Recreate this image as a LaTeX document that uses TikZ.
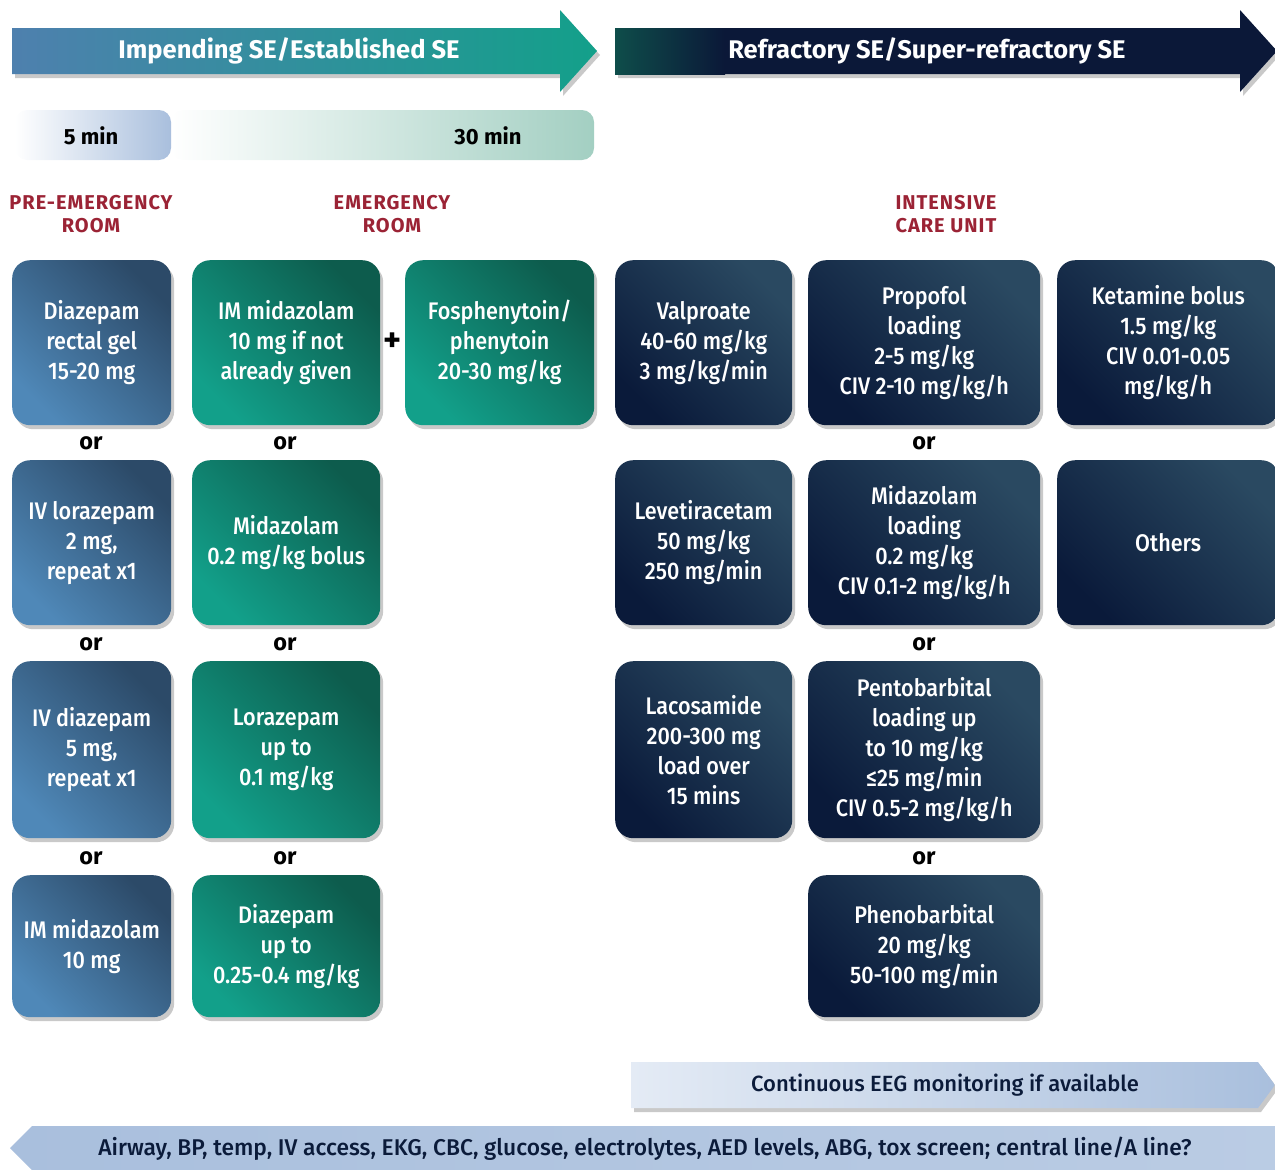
\documentclass[tikz,border=0pt]{standalone}
\usepackage{fontspec}
\setmainfont{Fira Sans}
\newfontfamily\medfont{Fira Sans Medium}[FakeStretch=0.9]
\newfontfamily\medwide{Fira Sans Medium}
\newfontfamily\headfont{Fira Sans}[LetterSpace=5]
\usetikzlibrary{shadows}
\definecolor{bluelight}{HTML}{4F88B8}
\definecolor{bluedark}{HTML}{2C4A68}
\definecolor{teallight}{HTML}{12A08A}
\definecolor{tealdark}{HTML}{0D5C4D}
\definecolor{navylight}{HTML}{2A4961}
\definecolor{navydark}{HTML}{0A1A3A}
\definecolor{arrowblue}{HTML}{4E80AE}
\definecolor{arrowteal}{HTML}{13A08A}
\definecolor{arrownavy}{HTML}{0B1838}
\definecolor{arrowdteal}{HTML}{0E4D4A}
\definecolor{headred}{HTML}{9B2335}
\definecolor{paleblue}{HTML}{A9BFDD}
\definecolor{paleteal}{HTML}{A3CFC2}
\definecolor{lightbar}{HTML}{E4EBF5}
\definecolor{textnavy}{HTML}{0B1B3A}
\tikzset{
  shad/.style={drop shadow={shadow xshift=3pt, shadow yshift=-4pt, opacity=0.3, fill=black!70}},
  box/.style={rounded corners=18pt, text=white, align=center, inner sep=0pt,
    font=\medfont\fontsize{24}{30}\selectfont, shad, anchor=north west},
  bluebox/.style={box, top color=bluedark, bottom color=bluelight, shading angle=-45},
  tealbox/.style={box, top color=tealdark, bottom color=teallight, shading angle=-45},
  navybox/.style={box, top color=navylight, bottom color=navydark, shading angle=-45},
  orlab/.style={font=\bfseries\fontsize{23.5}{24}\selectfont, text=black},
  head/.style={font=\headfont\bfseries\fontsize{20}{23}\selectfont, text=headred, align=center},
  arrowtext/.style={font=\bfseries\fontsize{25.5}{28}\selectfont, text=white},
  timetext/.style={font=\bfseries\fontsize{22}{24}\selectfont, text=black},
}
\begin{document}
\begin{tikzpicture}[x=1pt,y=-1pt]
\useasboundingbox (0,0) rectangle (1275,1170);
% top arrows
\path[shad, left color=arrowblue, right color=arrowteal]
  (12,28) -- (560,28) -- (560,10) -- (597,51) -- (560,92) -- (560,74) -- (12,74) -- cycle;
\node[arrowtext] (a1) at (289,51) {Impending SE/Established SE};
\path[shad, fill=arrownavy]
  (615,28) -- (1240,28) -- (1240,10) -- (1277,51) -- (1240,92) -- (1240,74) -- (615,74) -- cycle;
\path[left color=arrowdteal, right color=arrownavy] (615,28) rectangle (725,74);
\node[arrowtext] (a2) at (927,51) {Refractory SE/Super-refractory SE};
% time bar
\path[left color=white, right color=paleteal, rounded corners=12pt]
  (171,110) rectangle (594,160);
\path[left color=white, right color=paleblue, rounded corners=12pt]
  (15,110) rectangle (171,160);
\node[timetext] (t5) at (91,136) {5 min};
\node[timetext] (t30) at (488,136) {30 min};
% headings
\node[head] (h1) at (91,214) {PRE-EMERGENCY\\ROOM};
\node[head] (h2) at (392,214) {EMERGENCY\\ROOM};
\node[head] (h3) at (946,214) {INTENSIVE\\CARE UNIT};
% column 1
\node[bluebox, minimum width=159pt, minimum height=165pt] (b11) at (12,260) {Diazepam\\rectal gel\\15-20 mg};
\node[bluebox, minimum width=159pt, minimum height=165pt] (b12) at (12,460) {IV lorazepam\\2 mg,\\repeat x1};
\node[bluebox, minimum width=159pt, minimum height=177pt] (b13) at (12,661) {IV diazepam\\5 mg,\\repeat x1};
\node[bluebox, minimum width=159pt, minimum height=142pt] (b14) at (12,875) {IM midazolam\\10 mg};
% column 2
\node[tealbox, minimum width=188pt, minimum height=165pt] (b21) at (192,260) {IM midazolam\\10 mg if not\\already given};
\node[tealbox, minimum width=188pt, minimum height=165pt] (b22) at (192,460) {Midazolam\\0.2 mg/kg bolus};
\node[tealbox, minimum width=188pt, minimum height=177pt] (b23) at (192,661) {Lorazepam\\up to\\0.1 mg/kg};
\node[tealbox, minimum width=188pt, minimum height=142pt] (b24) at (192,875) {Diazepam\\up to\\0.25-0.4 mg/kg};
% column 3
\node[tealbox, minimum width=189pt, minimum height=165pt] (b31) at (405,260) {Fosphenytoin/\\phenytoin\\20-30 mg/kg};
\node[font=\bfseries\fontsize{34}{34}\selectfont] (plus) at (393,342) {+};
% ICU columns
\node[navybox, minimum width=177pt, minimum height=165pt] (c11) at (615,260) {Valproate\\40-60 mg/kg\\3 mg/kg/min};
\node[navybox, minimum width=177pt, minimum height=165pt] (c12) at (615,460) {Levetiracetam\\50 mg/kg\\250 mg/min};
\node[navybox, minimum width=177pt, minimum height=177pt] (c13) at (615,661) {Lacosamide\\200-300 mg\\load over\\15 mins};
\node[navybox, minimum width=232pt, minimum height=165pt] (c21) at (808,260) {Propofol\\loading\\2-5 mg/kg\\CIV 2-10 mg/kg/h};
\node[navybox, minimum width=232pt, minimum height=165pt] (c22) at (808,460) {Midazolam\\loading\\0.2 mg/kg\\CIV 0.1-2 mg/kg/h};
\node[navybox, minimum width=232pt, minimum height=177pt] (c23) at (808,661) {Pentobarbital\\loading up\\to 10 mg/kg\\≤25 mg/min\\CIV 0.5-2 mg/kg/h};
\node[navybox, minimum width=232pt, minimum height=142pt] (c24) at (808,875) {Phenobarbital\\20 mg/kg\\50-100 mg/min};
\node[navybox, minimum width=222pt, minimum height=165pt] (c31) at (1057,260) {Ketamine bolus\\1.5 mg/kg\\CIV 0.01-0.05\\mg/kg/h};
\node[navybox, minimum width=222pt, minimum height=165pt] (c32) at (1057,460) {Others};
% or labels
\foreach \x/\n in {91/a,285/b}{
  \node[orlab] (or\n1) at (\x,443) {or};
  \node[orlab] (or\n2) at (\x,644) {or};
  \node[orlab] (or\n3) at (\x,858) {or};
}
\node[orlab] (orc1) at (924,443) {or};
\node[orlab] (orc2) at (924,644) {or};
\node[orlab] (orc3) at (924,858) {or};
% EEG bar
\path[shad, left color=lightbar, right color=paleblue]
  (631,1062) -- (1258,1062) -- (1275,1085) -- (1258,1108) -- (631,1108) -- cycle;
\node[font=\medwide\fontsize{22}{24}\selectfont, text=textnavy] (eeg) at (945,1085) {Continuous EEG monitoring if available};
% bottom bar
\path[left color=paleblue, middle color=lightbar, right color=paleblue!80]
  (32,1126) -- (1275,1126) -- (1275,1170) -- (32,1170) -- (10,1148) -- cycle;
\node[font=\medwide\fontsize{22.8}{24}\selectfont, text=textnavy] (bot) at (645,1149) {Airway, BP, temp, IV access, EKG, CBC, glucose, electrolytes, AED levels, ABG, tox screen; central line/A line?};
\end{tikzpicture}
\end{document}
